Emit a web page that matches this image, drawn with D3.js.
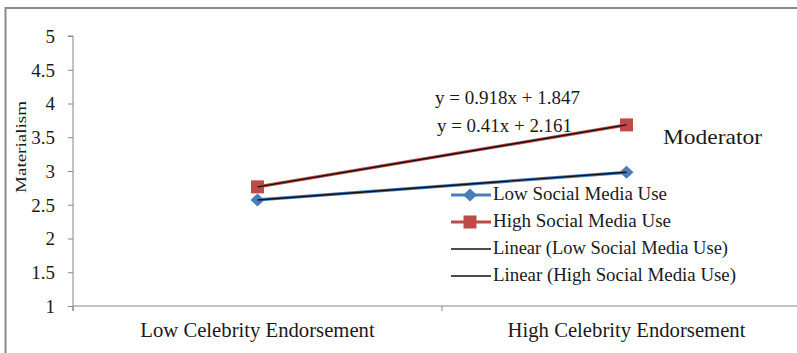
<!DOCTYPE html>
<html>
<head>
<meta charset="utf-8">
<script src="https://cdn.jsdelivr.net/npm/d3@7/dist/d3.min.js"></script>
<style>
  html, body { margin: 0; padding: 0; background: #fff; }
</style>
</head>
<body>
<svg id="chart" width="797" height="353"></svg>
<script>
// Interaction plot: celebrity endorsement x social media use
const categories = ["Low Celebrity Endorsement", "High Celebrity Endorsement"];
const lowSocial = [2.571, 2.981];
const highSocial = [2.765, 3.683];
const yTicks = [1, 1.5, 2, 2.5, 3, 3.5, 4, 4.5, 5];
const seriesNames = ["Low Social Media Use", "High Social Media Use"];
const trendNames = ["Linear (Low Social Media Use)", "Linear (High Social Media Use)"];
const equations = ["y = 0.918x + 1.847", "y = 0.41x + 2.161"];

const FONT = "Liberation Serif, Times New Roman, serif";
const svg = d3.select("#chart").attr("font-family", FONT);
const axisColor = "#868686";
const textColor = "#1a1a1a";

// outer chart frame
svg.append("rect")
  .attr("x", 5.5).attr("y", 8).attr("width", 820).attr("height", 380)
  .attr("fill", "none").attr("stroke", "#8a8a8a").attr("stroke-width", 2);

const plotLeft = 73, plotRight = 811, plotTop = 36, plotBottom = 306;
const x = d3.scaleBand().domain(categories).range([plotLeft, plotRight]);
const y = d3.scaleLinear().domain([1, 5]).range([plotBottom, plotTop]);

// y axis
const yAxis = svg.append("g").attr("transform", `translate(${plotLeft},0)`)
  .call(d3.axisLeft(y).tickValues(yTicks).tickSize(5).tickPadding(13).tickFormat(d3.format("")));
yAxis.attr("font-family", FONT).attr("font-size", 19);
yAxis.select(".domain").attr("stroke", axisColor).attr("d", `M-5,${plotTop}H0V${plotBottom + 5}`);
yAxis.selectAll(".tick line").attr("stroke", axisColor);
yAxis.selectAll(".tick text").attr("fill", textColor).attr("dy", "0.34em")
  .attr("font-family", FONT).attr("font-size", 19);

// x axis
const xAxis = svg.append("g").attr("transform", `translate(0,${plotBottom})`)
  .call(d3.axisBottom(x).tickSize(0).tickPadding(0));
xAxis.attr("font-family", FONT).attr("font-size", 20.7);
xAxis.select(".domain").attr("stroke", axisColor).attr("d", `M${plotLeft},0H${plotRight}`);
xAxis.selectAll(".tick text").attr("fill", textColor).attr("dy", null).attr("y", 31)
  .attr("font-family", FONT);
// category separator ticks
const bounds = [plotLeft, plotLeft + x.bandwidth()];
xAxis.selectAll("line.sep").data(bounds).enter().append("line")
  .attr("class", "sep")
  .attr("x1", d => d).attr("x2", d => d).attr("y1", 0).attr("y2", 5)
  .attr("stroke", axisColor);

// y axis title
svg.append("text")
  .attr("transform", `translate(26,${(plotTop + plotBottom) / 2 - 24}) rotate(-90)`)
  .attr("text-anchor", "middle").attr("font-size", 15).attr("fill", textColor)
  .attr("textLength", 92).attr("lengthAdjust", "spacingAndGlyphs")
  .text("Materialism");

const cx = (d, i) => x(categories[i]) + x.bandwidth() / 2;
const line = d3.line().x((d, i) => cx(d, i)).y(d => y(d));

const series = [
  { name: seriesNames[0], values: lowSocial, color: "#4A7EBB", marker: "diamond" },
  { name: seriesNames[1], values: highSocial, color: "#BE4B48", marker: "square" }
];

series.forEach(s => {
  svg.append("path").datum(s.values)
    .attr("d", line).attr("fill", "none")
    .attr("stroke", s.color).attr("stroke-width", 3.2);
});

function drawMarker(g, type, color, px, py) {
  if (type === "square") {
    g.append("rect").attr("x", px - 6.5).attr("y", py - 6.5).attr("width", 13).attr("height", 13)
      .attr("fill", color);
  } else {
    g.append("path").attr("d", `M${px - 7},${py}L${px},${py - 6.5}L${px + 7},${py}L${px},${py + 6.5}Z`)
      .attr("fill", color);
  }
}

const markers = svg.append("g");
series.forEach(s => {
  s.values.forEach((v, i) => drawMarker(markers, s.marker, s.color, cx(v, i), y(v)));
});

// linear trend lines (two points each, fitted exactly)
series.forEach(s => {
  svg.append("path").datum(s.values)
    .attr("d", line).attr("fill", "none")
    .attr("stroke", "#111").attr("stroke-width", 1.4);
});

// trend equations
svg.append("text").attr("x", 435).attr("y", 104).attr("font-size", 18).attr("fill", textColor)
  .attr("textLength", 145).attr("lengthAdjust", "spacingAndGlyphs").text(equations[0]);
svg.append("text").attr("x", 437).attr("y", 132).attr("font-size", 18).attr("fill", textColor)
  .attr("textLength", 135).attr("lengthAdjust", "spacingAndGlyphs").text(equations[1]);

svg.append("text").attr("x", 663).attr("y", 144).attr("font-size", 21).attr("fill", textColor)
  .attr("textLength", 99).attr("lengthAdjust", "spacingAndGlyphs").text("Moderator");

// legend
const legend = svg.append("g");
const legendItems = [
  { label: seriesNames[0], color: "#4A7EBB", marker: "diamond", w: 3.2, len: 174 },
  { label: seriesNames[1], color: "#BE4B48", marker: "square", w: 3.2, len: 178 },
  { label: trendNames[0], color: "#111", marker: null, w: 1.4, len: 235 },
  { label: trendNames[1], color: "#111", marker: null, w: 1.4, len: 243 }
];
legendItems.forEach((it, i) => {
  const ly = 195 + i * 27;
  legend.append("line").attr("x1", 451).attr("x2", 491).attr("y1", ly).attr("y2", ly)
    .attr("stroke", it.color).attr("stroke-width", it.w);
  if (it.marker) drawMarker(legend, it.marker, it.color, 470, ly);
  legend.append("text").attr("x", 493).attr("y", ly + 5).attr("font-size", 18)
    .attr("textLength", it.len).attr("lengthAdjust", "spacingAndGlyphs")
    .attr("fill", textColor).text(it.label);
});
</script>
</body>
</html>
